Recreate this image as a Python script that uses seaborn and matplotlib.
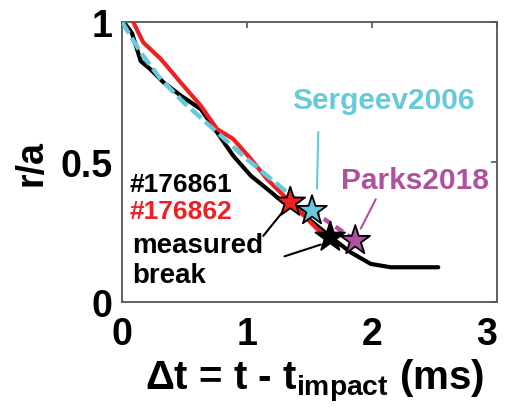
import matplotlib
matplotlib.use("Agg")
import matplotlib.pyplot as plt
import seaborn as sns
import pandas as pd

# ---- data ----
t_176861 = [0.0, 0.03, 0.08, 0.15, 0.23, 0.33, 0.47, 0.63, 0.76, 0.89, 1.03, 1.16, 1.29, 1.43, 1.56, 1.69, 1.83, 1.99, 2.15, 2.53]
r_176861 = [1.0, 0.99, 0.96, 0.86, 0.83, 0.785, 0.737, 0.689, 0.606, 0.522, 0.451, 0.404, 0.356, 0.32, 0.272, 0.225, 0.177, 0.136, 0.124, 0.124]

t_176862 = [0.09, 0.13, 0.17, 0.31, 0.49, 0.63, 0.76, 0.89, 1.03, 1.16, 1.32, 1.43, 1.56, 1.67]
r_176862 = [1.0, 0.963, 0.927, 0.868, 0.773, 0.701, 0.618, 0.582, 0.511, 0.439, 0.368, 0.32, 0.261, 0.225]

t_sergeev = [0.0, 0.15, 0.31, 0.5, 0.76, 1.0, 1.32, 1.52]
r_sergeev = [1.0, 0.89, 0.796, 0.71, 0.606, 0.51, 0.392, 0.326]

t_parks = [1.52, 1.87]
r_parks = [0.326, 0.219]

star_labels = ["#176862", "Sergeev2006", "#176861", "Parks2018"]
star_t = [1.346, 1.52, 1.666, 1.866]
star_r = [0.356, 0.326, 0.231, 0.219]

x_ticks = [0, 1, 2, 3]
y_ticks = [0, 0.5, 1]
y_tick_labels = ["0", "0.5", "1"]

RED = "#ee2024"
CYAN = "#66c9dc"
PURPLE = "#b0519f"
BLACK = "#000000"
star_colors = [RED, CYAN, BLACK, PURPLE]

sns.set_style("white")
plt.rcParams["font.family"] = ["Liberation Sans", "DejaVu Sans"]
plt.rcParams["font.weight"] = "bold"
plt.rcParams["mathtext.default"] = "regular"
plt.rcParams["text.color"] = "black"
plt.rcParams["axes.labelcolor"] = "black"

fig = plt.figure(figsize=(5.05, 4.10), dpi=100)
ax = fig.add_axes([0.2416, 0.261, 0.7426, 0.683])

df1 = pd.DataFrame({"t": t_176861, "r": r_176861})
df2 = pd.DataFrame({"t": t_176862, "r": r_176862})
dfs = pd.DataFrame({"t": t_sergeev, "r": r_sergeev})
dfp = pd.DataFrame({"t": t_parks, "r": r_parks})

sns.lineplot(data=df2, x="t", y="r", ax=ax, color=RED, lw=3.0, sort=False, zorder=3)
sns.lineplot(data=df1, x="t", y="r", ax=ax, color=BLACK, lw=3.0, sort=False, zorder=2)
sns.lineplot(data=dfs, x="t", y="r", ax=ax, color=CYAN, lw=3.2, sort=False, zorder=4,
             linestyle=(0, (3, 1.2)))
sns.lineplot(data=dfp, x="t", y="r", ax=ax, color=PURPLE, lw=3.2, sort=False, zorder=4,
             linestyle=(0, (2, 1.2)))

dstar = pd.DataFrame({"t": star_t, "r": star_r, "lab": star_labels})
sns.scatterplot(data=dstar, x="t", y="r", hue="lab", palette=dict(zip(star_labels, star_colors)),
                marker="*", s=500, edgecolor="black", linewidth=1.3, ax=ax, legend=False, zorder=6)

ax.set_xlim(0, 3)
ax.set_ylim(0, 1)
ax.set_xticks(x_ticks)
ax.set_yticks(y_ticks)
ax.set_yticklabels(y_tick_labels)
ax.tick_params(axis="both", direction="in", length=4, width=1.2, color="#555555",
               labelcolor="black", labelsize=27, top=True, right=True)
ax.tick_params(axis="x", pad=10)
ax.tick_params(axis="y", pad=7)
for lab in ax.get_xticklabels() + ax.get_yticklabels():
    lab.set_fontweight("bold")
ax.get_xticklabels()[-1].set_horizontalalignment("right")
for s in ax.spines.values():
    s.set_color("#555555")
    s.set_linewidth(1.3)

ax.set_xlabel(r"Δt = t - t$_{\mathregular{impact}}$ (ms)", fontsize=29, fontweight="bold")
ax.xaxis.set_label_coords(0.515, -0.195)
ax.set_ylabel("r/a", fontsize=27, fontweight="bold", labelpad=8)

# annotations
ax.text(0.06, 0.42, "#176861", color=BLACK, fontsize=19, fontweight="bold", va="center", ha="left")
ax.text(0.06, 0.325, "#176862", color=RED, fontsize=19, fontweight="bold", va="center", ha="left")
ax.text(0.08, 0.205, "measured", color=BLACK, fontsize=20, fontweight="bold", va="center", ha="left")
ax.text(0.08, 0.095, "break", color=BLACK, fontsize=20, fontweight="bold", va="center", ha="left")
ax.text(2.09, 0.72, "Sergeev2006", color=CYAN, fontsize=21.5, fontweight="bold", va="center", ha="center")
ax.text(2.34, 0.435, "Parks2018", color=PURPLE, fontsize=21.5, fontweight="bold", va="center", ha="center")

ax.plot([1.57, 1.56], [0.607, 0.405], color=CYAN, lw=1.5, zorder=1)
ax.plot([2.03, 1.91], [0.367, 0.262], color=PURPLE, lw=1.5, zorder=1)
ax.plot([1.13, 1.30], [0.236, 0.33], color=BLACK, lw=1.5, zorder=1)
ax.plot([1.30, 1.59], [0.163, 0.205], color=BLACK, lw=1.5, zorder=1)

fig.savefig("out.png", dpi=100)
